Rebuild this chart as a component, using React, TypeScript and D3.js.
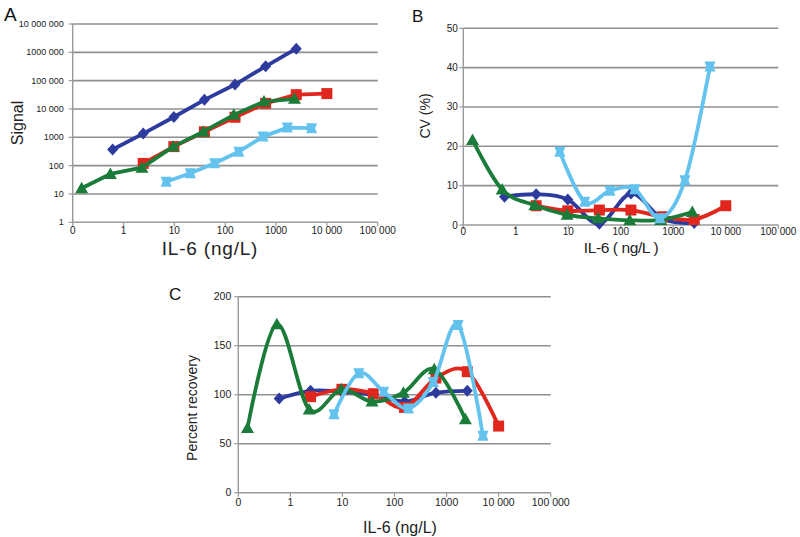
import React from "react";
import * as d3 from "d3";

// ---------- data ----------
const xBlue = [0.61, 2.44, 9.77, 39, 156, 625, 2500];
const xRed = [2.44, 9.77, 39, 156, 625, 2500, 10000];
const xGreen = [0.15, 0.55, 2.3, 9.5, 37, 148, 580, 2300];
const xSky = [6.9, 20.6, 62, 185, 556, 1667, 5000];

const signalBlue = [370, 1350, 5200, 21000, 73000, 320000, 1350000];
const signalRed = [120, 470, 1560, 5100, 15800, 32000, 35000];
const signalGreen = [16, 51, 85, 470, 1580, 6200, 18300, 22800];
const signalSky = [27, 54, 121, 310, 1060, 2200, 2100];

const cvBlue = [7.2, 7.8, 6.5, 0.3, 8.0, 1.5, 0.5];
const cvRed = [4.9, 3.6, 3.8, 3.8, 2.1, 1.4, 4.9];
const cvGreen = [21.6, 9.0, 5.0, 2.6, 1.7, 1.2, 1.3, 3.3];
const cvSky = [18.6, 5.9, 8.7, 9.1, 1.7, 11.4, 40.3];

const recBlue = [96, 104, 103, 100, 93, 102, 104];
const recRed = [98, 105.5, 101, 87, 117, 123.5, 68];
const recGreen = [66, 172, 85, 105.5, 93, 102, 126, 75];
const recSky = [80, 122, 103, 86, 113, 171, 58];

const xTickValues = [0.1, 1, 10, 100, 1000, 10000, 100000];
const xTickLabels = ["0", "1", "10", "100", "1000", "10 000", "100 000"];
const signalTicks = [1, 10, 100, 1000, 10000, 100000, 1000000, 10000000];
const signalTickLabels = ["1", "10", "100", "1000", "10 000", "100 000", "1000 000", "10 000 000"];
const cvTicks = [0, 10, 20, 30, 40, 50];
const recTicks = [0, 50, 100, 150, 200];

const COLORS = { blue: "#2e3b9e", red: "#e0261d", green: "#1b7c3a", sky: "#63c3ee" };
const FONT = "Liberation Sans, Arial, sans-serif";
const GRID = "#8f8f8f";

type Marker = "diamond" | "square" | "triangle" | "hourglass";

function markerPath(m: Marker): string {
  switch (m) {
    case "diamond":
      return "M0,-6L5.5,0L0,6L-5.5,0Z";
    case "square":
      return "M-5.5,-5.5L5.5,-5.5L5.5,5.5L-5.5,5.5Z";
    case "triangle":
      return "M0,-6.5L6.5,5L-6.5,5Z";
    case "hourglass":
      return "M-5.5,-5L5.5,-5L3.5,0L5.5,5L-5.5,5L-3.5,0Z";
  }
}

interface SeriesDef {
  xs: number[];
  ys: number[];
  color: string;
  marker: Marker;
}

interface PanelProps {
  letter: string;
  letterX: number;
  letterY: number;
  letterSize: number;
  left: number;
  right: number;
  top: number;
  bottom: number;
  yLog: boolean;
  yDomain: [number, number];
  yTicks: number[];
  yTickLabels: string[];
  yTitle: string;
  yTitleX: number;
  yTitleY: number;
  yTitleSize: number;
  xTitle: string;
  xTitleX: number;
  xTitleY: number;
  xTitleSize: number;
  xTitleSpacing: number;
  yTickSize: number;
  xTickSize: number;
  yLabelGap: number;
  xLabelOffset: number;
  series: SeriesDef[];
  smooth: boolean;
}

function Panel(p: PanelProps) {
  const x = d3.scaleLog().domain([0.1, 100000]).range([p.left, p.right]);
  const y = p.yLog
    ? d3.scaleLog().domain(p.yDomain).range([p.bottom, p.top])
    : d3.scaleLinear().domain(p.yDomain).range([p.bottom, p.top]);
  const curve = p.smooth ? d3.curveCatmullRom.alpha(0) : d3.curveLinear;
  return (
    <g>
      <text x={p.letterX} y={p.letterY} fontSize={p.letterSize} fontFamily={FONT} fill="#111">
        {p.letter}
      </text>
      {p.yTicks.map((t, i) =>
        i === 0 ? null : (
          <line key={"g" + i} x1={p.left} x2={p.right} y1={y(t)} y2={y(t)} stroke={GRID} strokeWidth={1.6} />
        )
      )}
      <line x1={p.left} x2={p.left} y1={p.top} y2={p.bottom} stroke="#9a9a9a" strokeWidth={1.4} />
      <line x1={p.left} x2={p.right} y1={p.bottom} y2={p.bottom} stroke="#9a9a9a" strokeWidth={1.4} />
      {p.yTicks.map((t, i) => (
        <g key={"yt" + i}>
          <line x1={p.left - 4} x2={p.left} y1={y(t)} y2={y(t)} stroke="#9a9a9a" strokeWidth={1.2} />
          <text
            x={p.left - p.yLabelGap}
            y={y(t)}
            dy="0.35em"
            textAnchor="end"
            fontSize={p.yTickSize}
            fontFamily={FONT}
            fill="#222"
          >
            {p.yTickLabels[i]}
          </text>
        </g>
      ))}
      {xTickValues.map((t, i) => (
        <g key={"xt" + i}>
          <line x1={x(t)} x2={x(t)} y1={p.bottom} y2={p.bottom + 4} stroke="#9a9a9a" strokeWidth={1.2} />
          <text
            x={x(t)}
            y={p.bottom + p.xLabelOffset}
            textAnchor="middle"
            fontSize={p.xTickSize}
            fontFamily={FONT}
            fill="#222"
          >
            {xTickLabels[i]}
          </text>
        </g>
      ))}
      <text
        transform={`translate(${p.yTitleX},${p.yTitleY}) rotate(-90)`}
        textAnchor="middle"
        dy="0.35em"
        fontSize={p.yTitleSize}
        fontFamily={FONT}
        fill="#222"
      >
        {p.yTitle}
      </text>
      <text
        x={p.xTitleX}
        y={p.xTitleY}
        textAnchor="middle"
        fontSize={p.xTitleSize}
        letterSpacing={p.xTitleSpacing}
        fontFamily={FONT}
        fill="#222"
        style={{ whiteSpace: "pre" }}
      >
        {p.xTitle}
      </text>
      {p.series.map((s, si) => {
        const pts: [number, number][] = s.xs.map((xv, i) => [x(xv), y(s.ys[i])]);
        const line = d3.line().curve(curve)(pts) || "";
        return (
          <g key={"s" + si}>
            <path d={line} fill="none" stroke={s.color} strokeWidth={3.8} strokeLinejoin="round" strokeLinecap="round" />
            {pts.map((pt, i) => (
              <path key={i} d={markerPath(s.marker)} transform={`translate(${pt[0]},${pt[1]})`} fill={s.color} />
            ))}
          </g>
        );
      })}
    </g>
  );
}

export default function App() {
  const seriesA: SeriesDef[] = [
    { xs: xBlue, ys: signalBlue, color: COLORS.blue, marker: "diamond" },
    { xs: xRed, ys: signalRed, color: COLORS.red, marker: "square" },
    { xs: xGreen, ys: signalGreen, color: COLORS.green, marker: "triangle" },
    { xs: xSky, ys: signalSky, color: COLORS.sky, marker: "hourglass" },
  ];
  const seriesB: SeriesDef[] = [
    { xs: xBlue, ys: cvBlue, color: COLORS.blue, marker: "diamond" },
    { xs: xRed, ys: cvRed, color: COLORS.red, marker: "square" },
    { xs: xGreen, ys: cvGreen, color: COLORS.green, marker: "triangle" },
    { xs: xSky, ys: cvSky, color: COLORS.sky, marker: "hourglass" },
  ];
  const seriesC: SeriesDef[] = [
    { xs: xBlue, ys: recBlue, color: COLORS.blue, marker: "diamond" },
    { xs: xRed, ys: recRed, color: COLORS.red, marker: "square" },
    { xs: xGreen, ys: recGreen, color: COLORS.green, marker: "triangle" },
    { xs: xSky, ys: recSky, color: COLORS.sky, marker: "hourglass" },
  ];
  return (
    <svg
      width={800}
      height={537}
      viewBox="0 0 800 537"
      style={{ position: "absolute", left: 0, top: 0, background: "#fff" }}
    >
      <rect width={800} height={537} fill="#fff" />
      <Panel
        letter="A"
        letterX={4}
        letterY={21}
        letterSize={19}
        left={72.7}
        right={377.7}
        top={24}
        bottom={222.3}
        yLog={true}
        yDomain={[1, 10000000]}
        yTicks={signalTicks}
        yTickLabels={signalTickLabels}
        yTitle="Signal"
        yTitleX={17}
        yTitleY={123}
        yTitleSize={16}
        xTitle="IL-6 (ng/L)"
        xTitleX={210}
        xTitleY={255}
        xTitleSize={19}
        xTitleSpacing={0.8}
        yTickSize={9}
        xTickSize={10}
        yLabelGap={9}
        xLabelOffset={12}
        series={seriesA}
        smooth={false}
      />
      <Panel
        letter="B"
        letterX={412}
        letterY={22}
        letterSize={17}
        left={463.3}
        right={778.3}
        top={28.3}
        bottom={225}
        yLog={false}
        yDomain={[0, 50]}
        yTicks={cvTicks}
        yTickLabels={cvTicks.map(String)}
        yTitle="CV (%)"
        yTitleX={425}
        yTitleY={116}
        yTitleSize={14}
        xTitle="IL-6 ( ng/L )"
        xTitleX={621}
        xTitleY={253}
        xTitleSize={15.5}
        xTitleSpacing={-0.4}
        yTickSize={10}
        xTickSize={10}
        yLabelGap={5.5}
        xLabelOffset={10}
        series={seriesB}
        smooth={true}
      />
      <Panel
        letter="C"
        letterX={169}
        letterY={300}
        letterSize={17}
        left={238.3}
        right={550.7}
        top={296.7}
        bottom={492.7}
        yLog={false}
        yDomain={[0, 200]}
        yTicks={recTicks}
        yTickLabels={recTicks.map(String)}
        yTitle="Percent recovery"
        yTitleX={192}
        yTitleY={408}
        yTitleSize={14}
        xTitle="IL-6 (ng/L)"
        xTitleX={400}
        xTitleY={533}
        xTitleSize={16}
        xTitleSpacing={0}
        yTickSize={10.5}
        xTickSize={10.5}
        yLabelGap={7}
        xLabelOffset={13.5}
        series={seriesC}
        smooth={true}
      />
    </svg>
  );
}
